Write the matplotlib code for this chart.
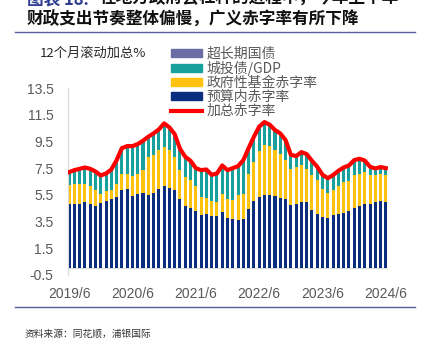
import matplotlib
matplotlib.use("Agg")
import matplotlib.pyplot as plt
import numpy as np
from matplotlib.patches import Patch
from matplotlib.lines import Line2D

# ---------------- data ----------------
tick_labels = ["2019/6", "2020/6", "2021/6", "2022/6", "2023/6", "2024/6"]
n_months = 61  # monthly, 2019/6 .. 2024/6

# 预算内赤字率 (navy segment)
budget = [4.79, 4.79, 4.79, 4.94, 4.79, 4.67, 4.87, 5.04, 5.19, 5.34,
          5.84, 5.91, 5.39, 5.54, 5.64, 5.46, 5.64, 5.91, 6.14, 6.01,
          5.84, 5.16, 4.67, 4.54, 4.29, 4.02, 4.04, 3.90, 3.90, 4.20,
          3.78, 3.67, 3.59, 3.72, 4.45, 5.05, 5.34, 5.46, 5.51, 5.41,
          5.29, 5.21, 4.72, 4.79, 4.96, 4.96, 4.34, 4.04, 3.84, 3.80,
          3.97, 4.04, 4.15, 4.28, 4.54, 4.70, 4.84, 4.78, 4.93, 5.01,
          4.93]
# 政府性基金赤字率 (yellow segment)
fund = [1.42, 1.55, 1.55, 1.40, 1.36, 1.17, 0.72, 0.72, 0.70, 1.00,
        1.20, 1.18, 1.52, 1.55, 1.75, 2.87, 2.87, 2.92, 2.96, 2.82,
        2.49, 2.18, 2.17, 2.05, 1.87, 1.32, 1.25, 1.11, 1.06, 1.39,
        1.43, 1.42, 1.87, 1.87, 2.64, 2.91, 3.44, 3.75, 3.62, 3.42,
        3.29, 2.87, 2.74, 2.79, 2.75, 2.50, 2.67, 2.55, 2.07, 1.84,
        1.87, 2.10, 2.31, 2.26, 2.47, 2.39, 2.35, 2.18, 2.03, 2.08,
        2.08]
# 城投债/GDP (teal segment)
chengtou = [0.99, 1.01, 1.11, 1.21, 1.30, 1.41, 1.36, 1.34, 1.51, 1.76,
            1.96, 2.06, 2.24, 2.21, 2.16, 1.52, 1.59, 1.57, 1.75, 1.72,
            1.72, 1.61, 1.51, 1.46, 1.34, 2.01, 2.11, 1.99, 2.14, 2.11,
            2.14, 2.41, 2.19, 2.51, 1.91, 1.89, 1.82, 1.74, 1.62, 1.52,
            1.52, 1.52, 1.04, 0.82, 0.99, 1.09, 1.04, 1.01, 1.09, 1.11,
            1.14, 1.16, 1.09, 1.16, 1.09, 1.11, 0.88, 0.64, 0.52, 0.49,
            0.49]
# 超长期国债 (not visible in the picture)
ultralong = [0.0] * 61
# 加总赤字率 (red line)
total = [7.20, 7.35, 7.45, 7.55, 7.45, 7.25, 6.95, 7.10, 7.40, 8.10,
         9.00, 9.15, 9.15, 9.30, 9.55, 9.85, 10.10, 10.40, 10.85, 10.55,
         10.05, 8.95, 8.35, 8.05, 7.50, 7.35, 7.40, 7.00, 7.10, 7.70,
         7.35, 7.50, 7.65, 8.10, 9.00, 9.85, 10.60, 10.95, 10.75, 10.35,
         10.10, 9.60, 8.50, 8.40, 8.70, 8.55, 8.05, 7.60, 7.00, 6.75,
         6.98, 7.30, 7.55, 7.70, 8.10, 8.20, 8.07, 7.60, 7.48, 7.58,
         7.50]

series_names = ["超长期国债", "城投债/GDP", "政府性基金赤字率", "预算内赤字率", "加总赤字率"]
yticks = [-0.5, 1.5, 3.5, 5.5, 7.5, 9.5, 11.5, 13.5]

# ---------------- style ----------------
C_NAVY = "#0B2D80"
C_YEL = "#FFC20E"
C_TEAL = "#17A09C"
C_PURP = "#6B6BA6"
C_RED = "#FF0000"
C_TXT = "#595959"
C_RULE = "#5A5C9E"
CJK = ["Noto Sans CJK SC", "DejaVu Sans"]

plt.rcParams["font.family"] = ["Liberation Sans", "Noto Sans CJK SC", "DejaVu Sans"]

W, H = 421, 341
fig = plt.figure(figsize=(W / 100, H / 100), dpi=100)
fig.patch.set_facecolor("white")

ax = fig.add_axes([67.5 / W, 1 - 275 / H, (388 - 67.5) / W, (275 - 88) / H])

x = np.arange(n_months)
bw = 0.58
b = np.array(budget)
f = np.array(fund)
c = np.array(chengtou)
u = np.array(ultralong)
ax.bar(x, b, bw, color=C_NAVY, zorder=2)
ax.bar(x, f, bw, bottom=b, color=C_YEL, zorder=2)
ax.bar(x, c, bw, bottom=b + f, color=C_TEAL, zorder=2)
ax.bar(x, u, bw, bottom=b + f + c, color=C_PURP, zorder=2)
ax.plot(x, total, color=C_RED, lw=3.0, zorder=3, solid_joinstyle="round")

ax.set_xlim(-0.3, 60.4)
ax.set_ylim(-0.5, 13.5)
ax.set_yticks(yticks)
ax.set_yticklabels([f"{v:.1f}" for v in yticks])
ax.set_xticks([0, 12, 24, 36, 48, 60])
ax.set_xticklabels(tick_labels)
ax.tick_params(axis="both", length=0, labelsize=10, colors=C_TXT)
ax.tick_params(axis="y", pad=10)
ax.tick_params(axis="x", pad=9)
for s in ["top", "right", "bottom"]:
    ax.spines[s].set_visible(False)
ax.spines["left"].set_color("#D9D9D9")
ax.spines["left"].set_linewidth(0.8)
ax.axhline(0, color="#D9D9D9", lw=0.8, zorder=1)

# legend
handles = [Patch(color=C_PURP), Patch(color=C_TEAL), Patch(color=C_YEL),
           Patch(color=C_NAVY), Line2D([0], [0], color=C_RED, lw=3)]
leg = fig.legend(handles, series_names, loc="upper left",
                 bbox_to_anchor=(171 / W, 1 - 47 / H), frameon=False,
                 prop={"family": CJK, "size": 10}, handlelength=2.2,
                 handleheight=0.5, labelspacing=0.0, borderpad=0,
                 borderaxespad=0, handletextpad=0.35)
for t in leg.get_texts():
    t.set_color(C_TXT)

# unit label
fig.text(40 / W, 1 - 53 / H, "12个月滚动加总%", fontsize=9.5, family=CJK,
         color="#262626", va="center", ha="left")

# title (first line cut by the top edge, as in the reference)
fig.text(27 / W, 1 + 1 / H, "图表 18:", fontsize=12, family=CJK,
         fontweight="bold", color="#2E3D8F", va="center", ha="left")
fig.text(100 / W, 1 + 1 / H, "在地方政府去杠杆的进程中，今年上半年", fontsize=12,
         family=CJK, fontweight="bold", color="#111111", va="center", ha="left")
fig.text(27 / W, 1 - 20 / H, "财政支出节奏整体偏慢，广义赤字率有所下降", fontsize=12,
         family=CJK, fontweight="bold", color="#111111", va="center", ha="left")

# rules
fig.add_artist(Line2D([15 / W, 415 / W], [1 - 31.5 / H, 1 - 31.5 / H],
                      color=C_RULE, lw=1.0))
fig.add_artist(Line2D([15 / W, 415 / W], [1 - 307 / H, 1 - 307 / H],
                      color=C_RULE, lw=1.0))

# source
fig.text(25 / W, 1 - 334 / H, "资料来源：同花顺，浦银国际", fontsize=7, family=CJK,
         color="#333333", va="center", ha="left")

fig.savefig("out.png", dpi=100)
